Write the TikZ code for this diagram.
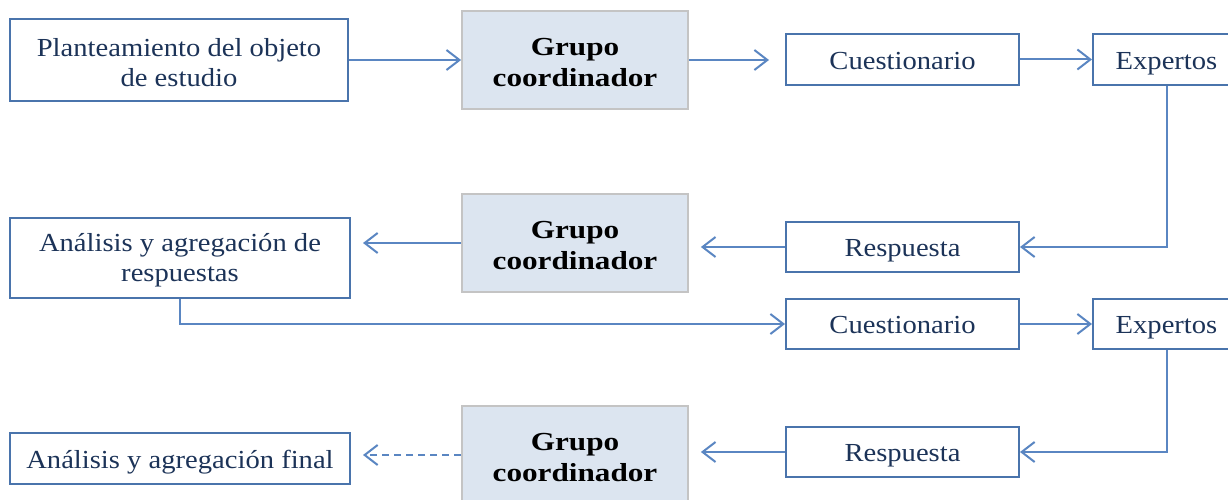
\documentclass[tikz,border=0pt]{standalone}
\usepackage{fontspec}
\setmainfont{Liberation Serif}[FakeStretch=1.1, BoldFeatures={FakeStretch=1.2}]
\usetikzlibrary{arrows.meta}
\definecolor{lineblue}{HTML}{5A86C2}
\definecolor{boxblue}{HTML}{4A74AC}
\definecolor{txtblue}{HTML}{1C3358}
\definecolor{grfill}{HTML}{DCE5F0}
\definecolor{grline}{HTML}{C4C4C4}
\begin{document}
\begin{tikzpicture}[x=1pt,y=-1pt,
 plain/.style={draw=boxblue, line width=2pt, fill=white, inner sep=0pt},
 grupo/.style={draw=grline, line width=1.8pt, fill=grfill, minimum width=226pt, minimum height=98pt, inner sep=0pt},
 txt/.style={align=center, text=txtblue, font=\fontsize{26}{30}\selectfont, inner sep=0pt},
 one/.style={txt, text height=18pt, text depth=6pt, yshift=-3.6pt},
 two/.style={txt, yshift=-2.5pt},
 gtxt/.style={align=center, text=black, font=\fontsize{26}{31}\selectfont\bfseries, inner sep=0pt, yshift=-2.5pt},
 conn/.style={draw=lineblue, line width=2pt, -{Straight Barb[length=13pt,width=20pt]}},
]
\useasboundingbox (0,0) rectangle (1228,500);
% row 1
\node[plain, minimum width=338pt, minimum height=82pt, label={[two]center:{Planteamiento del objeto\\de estudio}}] (p) at (179,60) {};
\node[grupo, label={[gtxt]center:{Grupo\\coordinador}}] (g1) at (575,60) {};
\node[plain, minimum width=233pt, minimum height=51pt, label={[one]center:Cuestionario}] (c1) at (902.5,59.5) {};
\node[plain, minimum width=147pt, minimum height=51pt, label={[one]center:Expertos}] (e1) at (1166.5,59.5) {};
% row 2
\node[plain, minimum width=233pt, minimum height=50pt, label={[one]center:Respuesta}] (r1) at (902.5,247) {};
\node[grupo, label={[gtxt]center:{Grupo\\coordinador}}] (g2) at (575,243) {};
\node[plain, minimum width=340pt, minimum height=80pt, label={[two]center:{Análisis y agregación de\\respuestas}}] (a1) at (180,258) {};
% row 3
\node[plain, minimum width=233pt, minimum height=50pt, label={[one]center:Cuestionario}] (c2) at (902.5,324) {};
\node[plain, minimum width=147pt, minimum height=50pt, label={[one]center:Expertos}] (e2) at (1166.5,324) {};
\node[plain, minimum width=233pt, minimum height=50pt, label={[one]center:Respuesta}] (r2) at (902.5,452) {};
\node[grupo, label={[gtxt]center:{Grupo\\coordinador}}] (g3) at (575,455) {};
\node[plain, minimum width=340pt, minimum height=51pt, label={[one]center:Análisis y agregación final}] (af) at (180,458.5) {};
% connectors
\draw[conn] (p) -- (g1);
\draw[conn, shorten >=16pt] (g1.east) -- (g1.east -| c1.west);
\draw[conn] (c1) -- (e1);
\draw[conn] (e1.south) |- (r1.east);
\draw[conn, shorten >=12pt] (r1.west) -- (r1.west -| g2.east);
\draw[conn, shorten >=12pt] (g2.west) -- (g2.west -| a1.east);
\draw[conn] (a1.south) |- (c2.west);
\draw[conn] (c2) -- (e2);
\draw[conn] (e2.south) |- (r2.east);
\draw[conn, shorten >=12pt] (r2.west) -- (r2.west -| g3.east);
\draw[conn, dash pattern=on 7pt off 5pt, shorten >=12pt] (g3.west) -- (g3.west -| af.east);
\end{tikzpicture}
\end{document}
